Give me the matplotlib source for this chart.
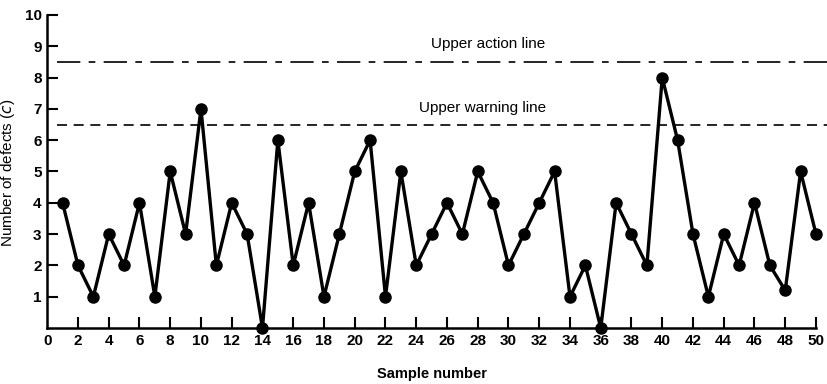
import numpy as np
import matplotlib
matplotlib.use("Agg")
import matplotlib.pyplot as plt

# sample numbers and defect counts
samples = list(range(1, 51))
defects = [4, 2, 1, 3, 2, 4, 1, 5, 3, 7,
           2, 4, 3, 0, 6, 2, 4, 1, 3, 5,
           6, 1, 5, 2, 3, 4, 3, 5, 4, 2,
           3, 4, 5, 1, 2, 0, 4, 3, 2, 8,
           6, 3, 1, 3, 2, 4, 2, 1.2, 5, 3]

action_level = 8.5
warning_level = 6.5
line_span = [0.65, 50.7]

x_ticks = list(range(0, 51, 2))
y_ticks = list(range(1, 11))

plt.rcParams['font.family'] = ['Liberation Sans', 'DejaVu Sans']

fig = plt.figure(figsize=(8.27, 3.84), dpi=100)
ax = fig.add_axes([0.0571, 0.1458, 0.9296, 0.8152])

ax.plot(samples, defects, color='black', lw=2.4, marker='o', ms=8,
        clip_on=False, zorder=3)

# control lines
ax.plot(line_span, [action_level, action_level], color='black', lw=1.2,
        dashes=(14, 5, 4, 5), clip_on=False)
ax.plot(line_span, [warning_level, warning_level], color='black', lw=1.2,
        dashes=(6, 4), clip_on=False)

ax.text(28.7, 9.07, "Upper action line", ha='center', va='center', fontsize=11)
ax.text(28.3, 7.03, "Upper warning line", ha='center', va='center', fontsize=11)

ax.set_xlim(0, 50)
ax.set_ylim(0, 10)
ax.set_xticks(x_ticks)
ax.set_yticks(y_ticks)
ax.tick_params(axis='both', direction='in', length=8, width=1.5,
               labelsize=11, pad=4)
for lab in ax.get_xticklabels() + ax.get_yticklabels():
    lab.set_fontweight('bold')
ax.xaxis.get_major_ticks()[0].tick1line.set_visible(False)

ax.spines['top'].set_visible(False)
ax.spines['right'].set_visible(False)
ax.spines['left'].set_linewidth(1.8)
ax.spines['bottom'].set_linewidth(1.8)

ax.set_ylabel("Number of defects ($\\it{c}$)", fontsize=11)
ax.yaxis.set_label_coords(-0.039, 0.495)
ax.set_xlabel("Sample number", fontsize=10.5, fontweight='bold', labelpad=14)

fig.savefig("out.png", dpi=100)
